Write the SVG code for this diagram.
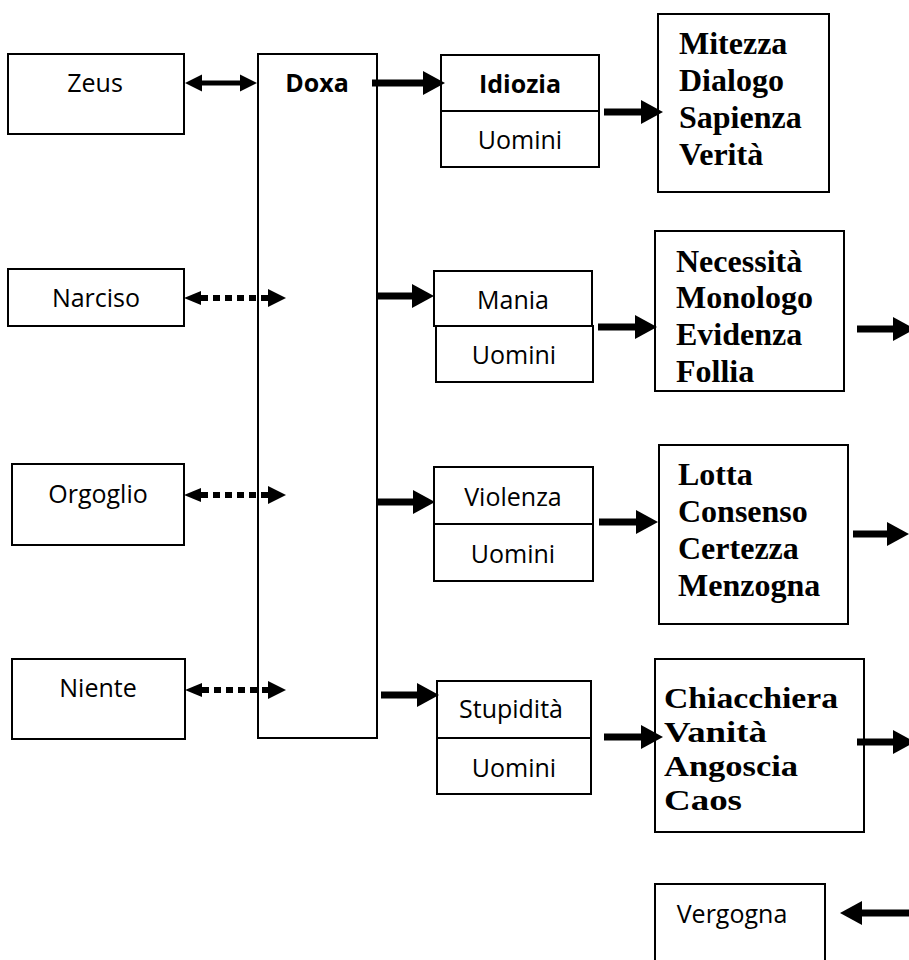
<svg xmlns="http://www.w3.org/2000/svg" width="909" height="960" viewBox="0 0 909 960">
<style>
  .box { fill: #fff; stroke: #000; stroke-width: 2; }
  .sans { font-family: "Open Sans", "Noto Sans", "Liberation Sans", sans-serif; font-size: 25px; fill: #000; text-anchor: middle; }
  .b { font-weight: bold; }
  .serif { font-family: "Liberation Serif", "Times New Roman", serif; font-size: 32px; font-weight: bold; fill: #000; }
  .small { font-size: 30px; }
  .thick { fill: none; stroke: #000; stroke-width: 7; marker-end: url(#big); }
  .dbl { fill: none; stroke: #000; stroke-width: 5; marker-start: url(#med); marker-end: url(#med); }
  .dot { fill: none; stroke: #000; stroke-width: 6; stroke-dasharray: 7 5; marker-start: url(#dotL); marker-end: url(#dotR); }
</style>
<defs>
  <marker id="big" markerUnits="userSpaceOnUse" markerWidth="24" markerHeight="26" refX="0" refY="12" orient="auto" overflow="visible">
    <path d="M0,0 L22,12 L0,24 Z" fill="#000"/>
  </marker>
  <marker id="med" markerUnits="userSpaceOnUse" markerWidth="18" markerHeight="18" refX="0" refY="8.5" orient="auto-start-reverse" overflow="visible">
    <path d="M0,0 L17,8.5 L0,17 Z" fill="#000"/>
  </marker>
  <marker id="dotL" markerUnits="userSpaceOnUse" markerWidth="18" markerHeight="16" refX="0" refY="7" orient="auto-start-reverse" overflow="visible">
    <path d="M0,0 L17,7 L0,14 Z" fill="#000"/>
  </marker>
  <marker id="dotR" markerUnits="userSpaceOnUse" markerWidth="20" markerHeight="20" refX="0" refY="9" orient="auto" overflow="visible">
    <path d="M0,0 L18,9 L0,18 Z" fill="#000"/>
  </marker>
</defs>
<rect width="909" height="960" fill="#fff"/>

<g id="zeus">
  <rect class="box" x="8" y="54" width="176" height="80"/>
  <text class="sans" x="95" y="92">Zeus</text>
</g>
<g id="narciso">
  <rect class="box" x="8" y="269" width="176" height="57"/>
  <text class="sans" x="96" y="307">Narciso</text>
</g>
<g id="orgoglio">
  <rect class="box" x="12" y="464" width="172" height="81"/>
  <text class="sans" x="98" y="503">Orgoglio</text>
</g>
<g id="niente">
  <rect class="box" x="12" y="659" width="173" height="80"/>
  <text class="sans" x="98" y="697">Niente</text>
</g>
<g id="doxa">
  <rect class="box" x="258" y="54" width="119" height="684"/>
  <text class="sans b" x="317" y="92">Doxa</text>
</g>

<g id="idiozia">
  <rect class="box" x="441" y="55" width="158" height="56"/>
  <rect class="box" x="441" y="111" width="158" height="56"/>
  <text class="sans b" x="520" y="93">Idiozia</text>
  <text class="sans" x="520" y="149">Uomini</text>
</g>
<g id="mania">
  <rect class="box" x="434" y="271" width="158" height="55"/>
  <rect class="box" x="436" y="326" width="157" height="56"/>
  <text class="sans" x="513" y="309">Mania</text>
  <text class="sans" x="514" y="364">Uomini</text>
</g>
<g id="violenza">
  <rect class="box" x="434" y="467" width="159" height="57"/>
  <rect class="box" x="434" y="524" width="159" height="57"/>
  <text class="sans" x="513" y="506">Violenza</text>
  <text class="sans" x="513" y="563">Uomini</text>
</g>
<g id="stupidita">
  <rect class="box" x="437" y="681" width="154" height="57"/>
  <rect class="box" x="437" y="738" width="154" height="56"/>
  <text class="sans" x="511" y="718">Stupidità</text>
  <text class="sans" x="514" y="777">Uomini</text>
</g>

<g id="mitezza">
  <rect class="box" x="658" y="14" width="171" height="178"/>
  <text class="serif" x="679" y="54">Mitezza</text>
  <text class="serif" x="679" y="91">Dialogo</text>
  <text class="serif" x="679" y="128">Sapienza</text>
  <text class="serif" x="679" y="165">Verità</text>
</g>
<g id="necessita">
  <rect class="box" x="655" y="231" width="189" height="160"/>
  <text class="serif" x="676" y="272">Necessità</text>
  <text class="serif" x="676" y="308">Monologo</text>
  <text class="serif" x="676" y="345">Evidenza</text>
  <text class="serif" x="676" y="382">Follia</text>
</g>
<g id="lotta">
  <rect class="box" x="659" y="445" width="189" height="179"/>
  <text class="serif" x="678" y="485">Lotta</text>
  <text class="serif" x="678" y="522">Consenso</text>
  <text class="serif" x="678" y="559">Certezza</text>
  <text class="serif" x="678" y="596">Menzogna</text>
</g>
<g id="chiacchiera">
  <rect class="box" x="655" y="659" width="209" height="173"/>
  <text class="serif small" x="664" y="708" textLength="174" lengthAdjust="spacingAndGlyphs">Chiacchiera</text>
  <text class="serif small" x="664" y="742" textLength="103" lengthAdjust="spacingAndGlyphs">Vanità</text>
  <text class="serif small" x="664" y="776" textLength="134" lengthAdjust="spacingAndGlyphs">Angoscia</text>
  <text class="serif small" x="664" y="810" textLength="78" lengthAdjust="spacingAndGlyphs">Caos</text>
</g>
<g id="vergogna">
  <rect class="box" x="655" y="884" width="170" height="90"/>
  <text class="sans" x="732" y="923">Vergogna</text>
</g>

<g id="connectors">
  <path class="dbl" d="M202,83 L240,83"/>
  <path class="dot" d="M201,298 L268,298"/>
  <path class="dot" d="M201,495 L268,495"/>
  <path class="dot" d="M202,690 L268,690"/>
  <path class="thick" d="M372,83 L423,83"/>
  <path class="thick" d="M376,296 L412,296"/>
  <path class="thick" d="M378,502 L413,502"/>
  <path class="thick" d="M381,695 L417,695"/>
  <path class="thick" d="M604,112 L641,112"/>
  <path class="thick" d="M598,327 L635,327"/>
  <path class="thick" d="M599,522 L636,522"/>
  <path class="thick" d="M604,737 L641,737"/>
  <path class="thick" d="M857,329 L893,329"/>
  <path class="thick" d="M853,534 L887,534"/>
  <path class="thick" d="M857,742 L893,742"/>
  <path class="thick" d="M912,913 L862,913"/>
</g>
</svg>
